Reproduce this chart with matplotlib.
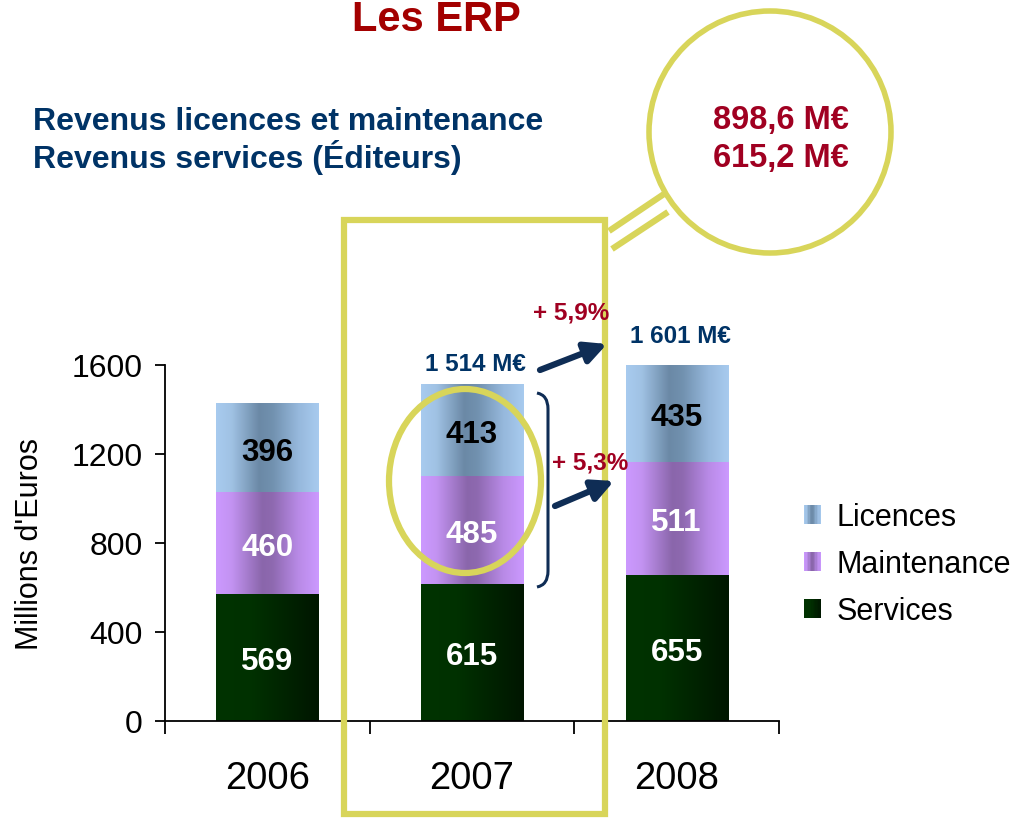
import numpy as np
import matplotlib
matplotlib.use("Agg")
import matplotlib.pyplot as plt
from matplotlib.colors import LinearSegmentedColormap
from matplotlib.patches import Rectangle, Ellipse, Circle, PathPatch
from matplotlib.path import Path
from matplotlib.legend_handler import HandlerBase

plt.rcParams['font.family'] = ['Liberation Sans', 'DejaVu Sans']

# ---------------- data ----------------
years = ["2006", "2007", "2008"]
services = [569, 615, 655]
maintenance = [460, 485, 511]
licences = [396, 413, 435]
totals_text = ["1 514 M€", "1 601 M€"]
growth_text = ["+ 5,9%", "+ 5,3%"]
title = "Les ERP"
subtitle_lines = ["Revenus licences et maintenance", "Revenus services (Éditeurs)"]
circle_lines = ["898,6 M€", "615,2 M€"]
series_names = ["Licences", "Maintenance", "Services"]
yticks = [0, 400, 800, 1200, 1600]

# ---------------- styles ----------------
NAVY = "#0F2D55"
SUBNAVY = "#003366"
DARKRED = "#A00021"
TITLERED = "#A30000"
YELLOW = "#D8D55A"

cmaps = {
    "Licences": LinearSegmentedColormap.from_list("lic", [
        (0.0, "#A8CBEF"), (0.15, "#A0C2E4"), (0.42, "#6B89A6"),
        (0.55, "#7191AF"), (0.8, "#96B8DC"), (1.0, "#A8CBEF")]),
    "Maintenance": LinearSegmentedColormap.from_list("mai", [
        (0.0, "#CC99FF"), (0.15, "#C393F2"), (0.45, "#8A66AB"),
        (0.55, "#8E69B0"), (0.8, "#B88AE6"), (1.0, "#CC99FF")]),
    "Services": LinearSegmentedColormap.from_list("ser", [
        (0.0, "#003300"), (0.35, "#003100"), (1.0, "#001600")]),
}

W, H = 1017, 820
fig = plt.figure(figsize=(W / 100, H / 100), dpi=100)
ax = fig.add_axes([165 / W, 1 - 722 / H, (779 - 165) / W, (722 - 366) / H])

x = np.arange(len(years))
bw = 0.5
grad = np.linspace(0, 1, 256).reshape(1, -1)

bottoms = np.zeros(len(years))
containers = {}
for name, vals in [("Services", services), ("Maintenance", maintenance), ("Licences", licences)]:
    cont = ax.bar(x, vals, bw, bottom=bottoms, color=cmaps[name](0.5), linewidth=0, label=name, zorder=2)
    containers[name] = cont
    for p in cont.patches:
        x0, y0, w, h = p.get_x(), p.get_y(), p.get_width(), p.get_height()
        ax.imshow(grad, cmap=cmaps[name], extent=[x0, x0 + w, y0, y0 + h],
                  aspect="auto", zorder=3, interpolation="bilinear")
    bottoms = bottoms + np.array(vals)

# value labels
for name, vals, col in [("Services", services, "white"), ("Maintenance", maintenance, "white"),
                        ("Licences", licences, "black")]:
    for p, v in zip(containers[name].patches, vals):
        ax.annotate(str(v), (p.get_x() + p.get_width() / 2, p.get_y() + p.get_height() / 2),
                    xytext=(0, -2.6), textcoords="offset points",
                    ha="center", va="center", color=col, fontsize=22.5, fontweight="bold", zorder=5)

ax.set_xlim(-0.5, 2.5)
ax.set_ylim(0, 1600)
ax.spines["top"].set_visible(False)
ax.spines["right"].set_visible(False)
for s in ["left", "bottom"]:
    ax.spines[s].set_linewidth(1.3)
    ax.spines[s].set_zorder(6)
ax.set_yticks(yticks)
ax.set_yticklabels([str(v) for v in yticks])
ax.tick_params(axis="y", direction="out", length=7.5, width=1.3, pad=8.5, labelsize=23)
ax.set_xticks([-0.5, 0.5, 1.5, 2.5])
ax.set_xticklabels([])
ax.tick_params(axis="x", which="major", direction="out", length=9, width=1.3)
ax.set_xticks(x, minor=True)
ax.set_xticklabels(years, minor=True)
ax.tick_params(axis="x", which="minor", length=0, pad=28, labelsize=27.5)
ax.set_ylabel("Millions d'Euros", fontsize=22, labelpad=19)


class GradHandler(HandlerBase):
    def __init__(self, cmap):
        super().__init__()
        self.cmap = cmap

    def create_artists(self, legend, orig_handle, xdescent, ydescent, width, height, fontsize, trans):
        n = 12
        arts = []
        for i in range(n):
            r = Rectangle((-xdescent + width * i / n, -ydescent), width / n + 0.2, height,
                          facecolor=self.cmap((i + 0.5) / n), edgecolor="none", transform=trans)
            arts.append(r)
        return arts


handles = [containers[n] for n in series_names]
hmap = {containers[n]: GradHandler(cmaps[n]) for n in series_names}
leg = ax.legend(handles, series_names, handler_map=hmap, frameon=False, fontsize=22,
                loc="upper left", bbox_to_anchor=(804 / W, 1 - 503 / H), bbox_transform=fig.transFigure,
                borderpad=0, borderaxespad=0, handlelength=0.56, handleheight=0.56,
                handletextpad=0.5, labelspacing=0.56)

# ---------------- overlay annotations ----------------
ov = fig.add_axes([0, 0, 1, 1], zorder=10)
ov.set_xlim(0, W)
ov.set_ylim(H, 0)
ov.axis("off")
ov.patch.set_alpha(0)

ov.text(436, 31, title, ha="center", va="baseline", color=TITLERED, fontsize=30, fontweight="bold")
ov.text(33, 130, subtitle_lines[0], ha="left", va="baseline", color=SUBNAVY, fontsize=23, fontweight="bold")
ov.text(33, 168, subtitle_lines[1], ha="left", va="baseline", color=SUBNAVY, fontsize=23, fontweight="bold")

ov.add_patch(Circle((770, 133), 121, fill=False, edgecolor=YELLOW, lw=4))
ov.text(781, 120, circle_lines[0], ha="center", va="center", color=DARKRED, fontsize=23.5, fontweight="bold")
ov.text(781, 159, circle_lines[1], ha="center", va="center", color=DARKRED, fontsize=23.5, fontweight="bold")
ov.plot([609, 664], [232, 195], color=YELLOW, lw=4.5, solid_capstyle="butt")
ov.plot([612, 668], [250, 213], color=YELLOW, lw=4.5, solid_capstyle="butt")

ov.add_patch(Rectangle((344, 221), 261, 594, fill=False, edgecolor=YELLOW, lw=4.5))
ov.add_patch(Ellipse((465, 482), 152, 184, fill=False, edgecolor=YELLOW, lw=4.5))

# bracket
verts = [(537, 394), (548, 396), (548, 410), (548, 572), (548, 586), (537, 588)]
codes = [Path.MOVETO, Path.CURVE3, Path.CURVE3, Path.LINETO, Path.CURVE3, Path.CURVE3]
ov.add_patch(PathPatch(Path(verts, codes), fill=False, edgecolor=NAVY, lw=2.2))

# arrows
ov.annotate("", xy=(607, 345), xytext=(540, 371),
            arrowprops=dict(arrowstyle="-|>", lw=4.5, color=NAVY, mutation_scale=32, shrinkA=0, shrinkB=0))
ov.annotate("", xy=(614, 482), xytext=(555, 507),
            arrowprops=dict(arrowstyle="-|>", lw=4.5, color=NAVY, mutation_scale=32, shrinkA=0, shrinkB=0))

ov.text(475, 365, totals_text[0], ha="center", va="center", color=SUBNAVY, fontsize=17.5, fontweight="bold")
ov.text(680, 337, totals_text[1], ha="center", va="center", color=SUBNAVY, fontsize=17.5, fontweight="bold")
ov.text(571, 313, growth_text[0], ha="center", va="center", color=DARKRED, fontsize=17.5, fontweight="bold")
ov.text(590, 463, growth_text[1], ha="center", va="center", color=DARKRED, fontsize=17.5, fontweight="bold")

fig.savefig("out.png", dpi=100)
